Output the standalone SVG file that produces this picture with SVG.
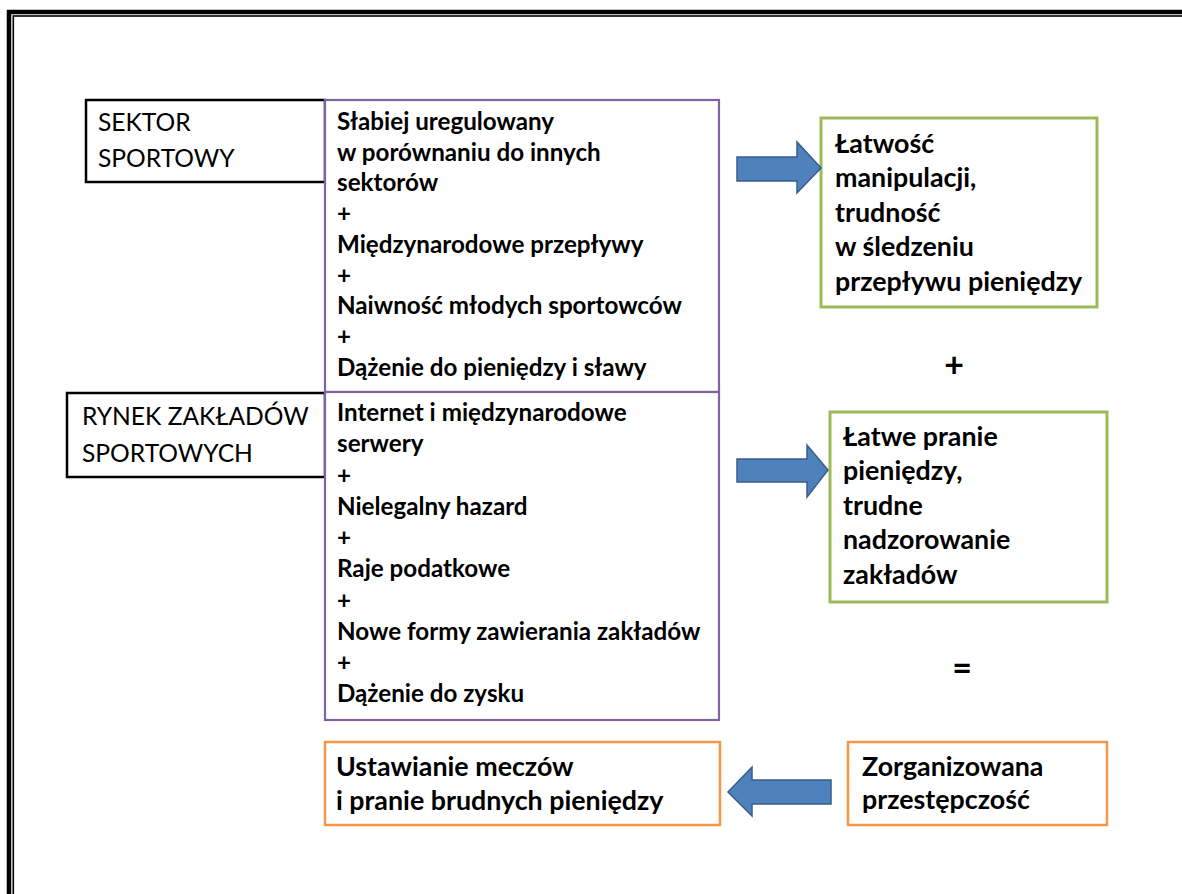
<svg xmlns="http://www.w3.org/2000/svg" width="1182" height="894" viewBox="0 0 1182 894">
<style>
  .lbl { font-family: Lato, "Open Sans", sans-serif; font-size: 24.6px; fill: #000; }
  .b { font-family: Lato, "Open Sans", sans-serif; font-weight: bold; font-size: 24.2px; fill: #000; }
  .bg { font-family: Lato, "Open Sans", sans-serif; font-weight: bold; font-size: 26.8px; fill: #000; }
  .sym { font-family: Lato, "Open Sans", sans-serif; font-weight: bold; font-size: 34px; fill: #000; text-anchor: middle; }
  .blk { fill: #fff; stroke: #000; stroke-width: 2.5; }
  .pur { fill: #fff; stroke: #8064A2; stroke-width: 2.2; }
  .grn { fill: #fff; stroke: #9BBB59; stroke-width: 3; }
  .org { fill: #fff; stroke: #F79646; stroke-width: 2.5; }
  .arr { fill: #4F81BD; stroke: #385D8A; stroke-width: 1.5; }
</style>
<rect width="1182" height="894" fill="#fff"/>
<g id="frame" fill="none" stroke="#000">
  <rect x="9" y="12" width="1200" height="900" stroke-width="4.5"/>
  <rect x="13.3" y="16" width="1200" height="900" stroke-width="1.6"/>
</g>
<g id="sektor">
  <rect class="blk" x="86" y="100" width="239" height="82"/>
  <text class="lbl" x="98" y="131">SEKTOR</text>
  <text class="lbl" x="98" y="167">SPORTOWY</text>
</g>
<g id="rynek">
  <rect class="blk" x="67" y="393" width="258" height="84"/>
  <text class="lbl" x="82" y="425">RYNEK ZAKŁADÓW</text>
  <text class="lbl" x="82" y="462">SPORTOWYCH</text>
</g>
<g id="czynniki-sport">
  <rect class="pur" x="325" y="100" width="394" height="292"/>
  <text class="b" x="337" y="130">Słabiej uregulowany</text>
  <text class="b" x="337" y="161">w porównaniu do innych</text>
  <text class="b" x="337" y="191">sektorów</text>
  <text class="b" x="337" y="222">+</text>
  <text class="b" x="337" y="253">Międzynarodowe przepływy</text>
  <text class="b" x="337" y="284">+</text>
  <text class="b" x="337" y="314">Naiwność młodych sportowców</text>
  <text class="b" x="337" y="345">+</text>
  <text class="b" x="337" y="376">Dążenie do pieniędzy i sławy</text>
</g>
<g id="czynniki-zaklady">
  <rect class="pur" x="325" y="392" width="394" height="328"/>
  <text class="b" x="337" y="421">Internet i międzynarodowe</text>
  <text class="b" x="337" y="452">serwery</text>
  <text class="b" x="337" y="484">+</text>
  <text class="b" x="337" y="515">Nielegalny hazard</text>
  <text class="b" x="337" y="546">+</text>
  <text class="b" x="337" y="577">Raje podatkowe</text>
  <text class="b" x="337" y="609">+</text>
  <text class="b" x="337" y="640">Nowe formy zawierania zakładów</text>
  <text class="b" x="337" y="671">+</text>
  <text class="b" x="337" y="702">Dążenie do zysku</text>
</g>
<g id="latwosc">
  <rect class="grn" x="821" y="118" width="276" height="189"/>
  <text class="bg" x="835" y="153">Łatwość</text>
  <text class="bg" x="835" y="187">manipulacji,</text>
  <text class="bg" x="835" y="222">trudność</text>
  <text class="bg" x="835" y="256">w śledzeniu</text>
  <text class="bg" x="835" y="291">przepływu pieniędzy</text>
</g>
<g id="pranie">
  <rect class="grn" x="830" y="412" width="277" height="190"/>
  <text class="bg" x="843" y="446">Łatwe pranie</text>
  <text class="bg" x="843" y="480">pieniędzy,</text>
  <text class="bg" x="843" y="515">trudne</text>
  <text class="bg" x="843" y="549">nadzorowanie</text>
  <text class="bg" x="843" y="584">zakładów</text>
</g>
<g id="ustawianie">
  <rect class="org" x="325" y="742" width="395" height="83"/>
  <text class="bg" x="336" y="776">Ustawianie meczów</text>
  <text class="bg" x="336" y="810">i pranie brudnych pieniędzy</text>
</g>
<g id="przestepczosc">
  <rect class="org" x="848" y="742" width="259" height="83"/>
  <text class="bg" x="862" y="776">Zorganizowana</text>
  <text class="bg" x="862" y="809">przestępczość</text>
</g>
<g id="symbols">
  <text class="sym" x="954" y="377">+</text>
  <text class="sym" x="962" y="680">=</text>
</g>
<g id="connectors">
  <path class="arr" d="M737,157 L797,157 L797,142 L821,168 L797,193 L797,181 L737,181 Z"/>
  <path class="arr" d="M737,459 L807,459 L807,445 L828,470 L807,497 L807,482 L737,482 Z"/>
  <path class="arr" d="M831,780 L752,780 L752,767 L728,792 L752,816 L752,804 L831,804 Z"/>
</g>
</svg>
